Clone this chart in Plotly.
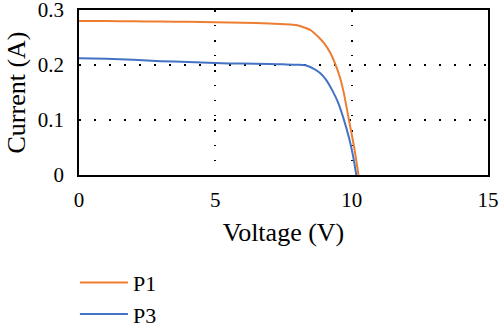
import plotly.graph_objects as go

# P1 series (Voltage V, Current A)
p1_voltage = [0, 1, 2, 3, 4, 5, 6, 7, 7.5, 8, 8.5, 8.8, 9.0, 9.2, 9.4, 9.56, 9.7, 9.9, 10.1, 10.25]
p1_current = [0.280, 0.2798, 0.2795, 0.279, 0.2785, 0.2778, 0.277, 0.2755, 0.2743, 0.2722,
              0.2632, 0.250, 0.239, 0.2235, 0.2015, 0.179, 0.152, 0.100, 0.048, 0.0]

# P3 series
p3_voltage = [0, 1, 2, 3, 4, 5, 6, 7, 7.5, 8, 8.3, 8.6, 8.85, 9.05, 9.3, 9.5, 9.7, 9.9, 10.05, 10.17]
p3_current = [0.2125, 0.2115, 0.2095, 0.207, 0.2055, 0.2035, 0.2025, 0.2018, 0.2012, 0.2005,
              0.1995, 0.1935, 0.185, 0.174, 0.153, 0.132, 0.103, 0.068, 0.035, 0.0]

x_ticks = [0, 5, 10, 15]
y_ticks = [0, 0.1, 0.2, 0.3]
y_tick_labels = ["0", "0.1", "0.2", "0.3"]

FONT = "Liberation Serif"

fig = go.Figure()
fig.add_trace(go.Scatter(x=p1_voltage, y=p1_current, name="P1", mode="lines",
                         line=dict(color="#ED7D31", width=2, shape="spline", smoothing=0.6)))
fig.add_trace(go.Scatter(x=p3_voltage, y=p3_current, name="P3", mode="lines",
                         line=dict(color="#4472C4", width=2, shape="spline", smoothing=0.6)))

axis_common = dict(
    showline=True, linecolor="black", linewidth=1.5, mirror=True,
    showgrid=True, gridcolor="black", gridwidth=1.5, griddash="1.5px,13.5px",
    zeroline=False, ticks="", ticklabeloverflow="allow",
    tickfont=dict(family=FONT, size=21, color="black"),
)

fig.update_xaxes(range=[0, 15], tickvals=x_ticks, ticktext=[str(v) for v in x_ticks],
                 title=dict(text="Voltage (V)", font=dict(family=FONT, size=26, color="black"), standoff=12),
                 ticklabelstandoff=5,
                 **axis_common)
fig.update_yaxes(range=[0, 0.3], tickvals=y_ticks, ticktext=y_tick_labels,
                 title=dict(text="Current (A)", font=dict(family=FONT, size=26, color="black"), standoff=5),
                 ticklabelstandoff=9,
                 **axis_common)

fig.update_layout(
    width=500, height=327,
    margin=dict(l=79, r=12, t=10, b=152, autoexpand=False),
    plot_bgcolor="white", paper_bgcolor="white",
    font=dict(family=FONT, color="black"),
    showlegend=True,
    legend=dict(orientation="v", x=-0.01, xanchor="left", y=-0.525, yanchor="top",
                font=dict(family=FONT, size=22, color="black"),
                itemwidth=48, bgcolor="rgba(0,0,0,0)", borderwidth=0),
)

fig.write_html("out.html")
